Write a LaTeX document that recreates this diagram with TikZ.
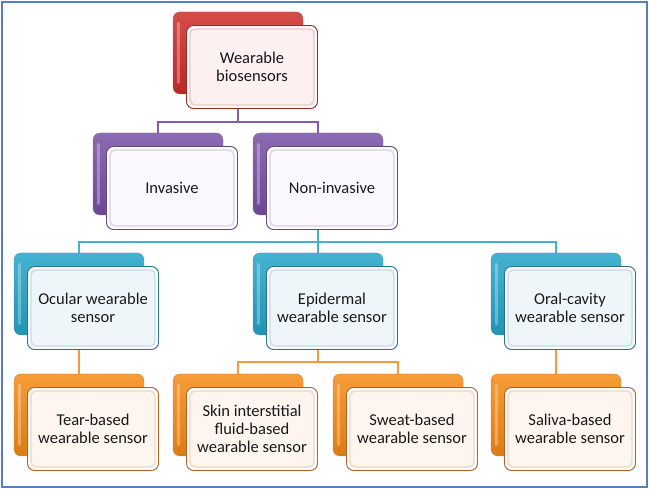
\documentclass[tikz,border=0pt]{standalone}
\usepackage{fontspec}
\setmainfont{Carlito}
\usetikzlibrary{backgrounds,calc}
\definecolor{redB}{RGB}{205,45,40}
\definecolor{redD}{RGB}{150,45,45}
\definecolor{redL}{RGB}{252,240,240}
\definecolor{purB}{RGB}{120,80,165}
\definecolor{purD}{RGB}{95,75,125}
\definecolor{purL}{RGB}{250,248,252}
\definecolor{cyaB}{RGB}{35,165,200}
\definecolor{cyaD}{RGB}{45,115,145}
\definecolor{cyaL}{RGB}{238,246,250}
\definecolor{oraB}{RGB}{245,138,20}
\definecolor{oraD}{RGB}{175,100,40}
\definecolor{oraL}{RGB}{253,245,238}
\definecolor{frameblue}{RGB}{85,125,200}
\definecolor{lnpur}{RGB}{128,92,178}
\definecolor{lncya}{RGB}{72,176,206}
\definecolor{lnora}{RGB}{246,152,62}
\tikzset{
  backbox/.style={rounded corners=7pt, minimum width=130pt, minimum height=82pt,
    draw=#1D!80, line width=0.4pt, top color=#1B!85!white, bottom color=#1B!90!black},
  frontbox/.style={rounded corners=7pt, minimum width=131pt, minimum height=83pt,
    draw=#1D, fill=#1L, line width=0.9pt, align=center, text=black!90,
    font=\fontsize{16.5}{18}\selectfont},
  conn/.style={line width=1.5pt, draw=#1},
}
\newcommand\wbpair[5]{%
  \node[backbox=#4] (#1b) at (#2,#3) {};
  \fill[white, opacity=0.3, rounded corners=1.5pt]
    ($(#1b.north west)+(4,10)$) rectangle ($(#1b.south west)+(7,-10)$);
  \node[frontbox=#4] (#1) at ($(#1b)+(14,14)$) {#5};
  \draw[#4D!25, line width=1.2pt, rounded corners=5pt]
    ($(#1.north west)+(4,4)$) rectangle ($(#1.south east)+(-4,-4)$);
  \draw[white, line width=1pt, rounded corners=6pt]
    ($(#1.north west)+(2,2)$) rectangle ($(#1.south east)+(-2,-2)$);
}
\begin{document}
\begin{tikzpicture}[x=1pt, y=-1pt]
\useasboundingbox (0,0) rectangle (649,489);
\draw[frameblue, line width=2.2pt] (2,2) rectangle (647,487);

\wbpair{wb}{238}{53}{red}{Wearable\\biosensors}
\wbpair{inv}{158}{174}{pur}{Invasive}
\wbpair{non}{318}{174}{pur}{Non-invasive}
\wbpair{ocu}{79}{294}{cya}{Ocular wearable\\sensor}
\wbpair{epi}{318}{294}{cya}{Epidermal\\wearable sensor}
\wbpair{ora}{556}{294}{cya}{Oral-cavity\\wearable sensor}
\wbpair{tear}{79}{415}{ora}{Tear-based\\wearable sensor}
\wbpair{skin}{238}{415}{ora}{Skin interstitial\\fluid-based\\wearable sensor}
\wbpair{swe}{398}{415}{ora}{Sweat-based\\wearable sensor}
\wbpair{sal}{556}{415}{ora}{Saliva-based\\wearable sensor}

\begin{pgfonlayer}{background}
  \coordinate (j1) at (238,122);
  \coordinate (j2) at (318,242);
  \coordinate (j3) at (318,362);
  \draw[conn=lnpur] (wbb.south) -- (j1);
  \draw[conn=lnpur] (invb.north) |- (j1) -| (nonb.north);
  \draw[conn=lncya] (nonb.south) -- (j2);
  \draw[conn=lncya] (ocub.north) |- (j2) -| (orab.north);
  \draw[conn=lncya] (j2) -- (epib.north);
  \draw[conn=lnora] (epib.south) -- (j3);
  \draw[conn=lnora] (skinb.north) |- (j3) -| (sweb.north);
  \draw[conn=lnora] (ocub.south) -- (tearb.north);
  \draw[conn=lnora] (orab.south) -- (salb.north);
\end{pgfonlayer}
\end{tikzpicture}
\end{document}
